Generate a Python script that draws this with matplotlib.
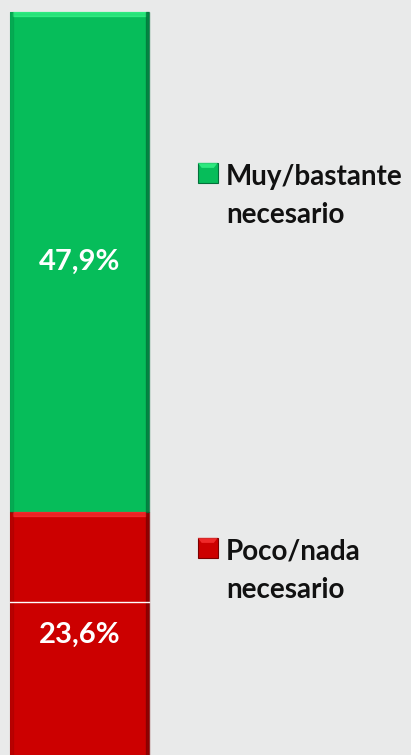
import matplotlib.pyplot as plt
from matplotlib.patches import Rectangle, Polygon

# stacked bar: bottom segment first
categories = ['Poco/nada\nnecesario', 'Muy/bastante\nnecesario']
values = [23.6, 47.9]
labels = ['23,6%', '47,9%']
colors = ['#cc0000', '#06bd5a']
light = ['#ff3b3b', '#3dfc8e']
dark = ['#7a0000', '#03703a']

plt.rcParams['font.family'] = ['Lato', 'DejaVu Sans']

fig = plt.figure(figsize=(4.11, 7.55), dpi=100)
fig.patch.set_facecolor('#e9eaea')
ax = fig.add_axes([0, 0, 1, 1])
ax.set_facecolor('#e9eaea')

bottom = 0
for val, lab, c, lc, dc in zip(values, labels, colors, light, dark):
    ax.bar(0, val, width=1, bottom=bottom, align='edge', color=c, zorder=2)
    # simple bevel: light top band, dark side bands
    ax.add_patch(Rectangle((0.02, bottom + val - 0.35), 0.96, 0.35, color=lc, zorder=3, alpha=0.6))
    ax.add_patch(Rectangle((0.975, bottom), 0.025, val, color=dc, zorder=3, alpha=0.7))
    ax.add_patch(Rectangle((0, bottom), 0.025, val, color=dc, zorder=3, alpha=0.2))
    ax.text(0.5, bottom + val / 2, lab, color='white', fontsize=21, fontweight='bold',
            ha='center', va='center', zorder=4)
    bottom += val

# thin white gridline crossing the red segment
ax.plot([0, 1], [15, 15], color='white', lw=1, zorder=3)

ax.set_xlim(-0.072, 2.885)
ax.set_ylim(0.32, 72.65)
ax.axis('off')

# legend drawn by hand to the right of the bar (axes fraction coords)
leg_top = [0.7844, 0.2877]
sq_w, sq_h = 0.049, 0.027
for cat, c, lc, dc, top in zip(categories[::-1], colors[::-1], light[::-1], dark[::-1], leg_top):
    x0, y0 = 0.481, top - sq_h
    ax.add_patch(Rectangle((x0, y0), sq_w, sq_h, transform=ax.transAxes,
                           facecolor=c, edgecolor=dc, lw=0.8, zorder=3))
    # pyramid-like bevel on the marker
    ax.add_patch(Polygon([(x0, top), (x0 + sq_w, top), (x0 + sq_w * 0.8, top - sq_h * 0.25),
                          (x0 + sq_w * 0.2, top - sq_h * 0.25)], closed=True,
                         transform=ax.transAxes, facecolor=lc, alpha=0.7, lw=0, zorder=4))
    for i, line in enumerate(cat.split('\n')):
        ax.text(0.55, top - sq_h - 0.002 - i * 0.0503, line, transform=ax.transAxes,
                fontsize=20, fontweight='bold', color='#111111', ha='left', va='baseline')

fig.savefig('out.png', dpi=100, facecolor=fig.get_facecolor())
